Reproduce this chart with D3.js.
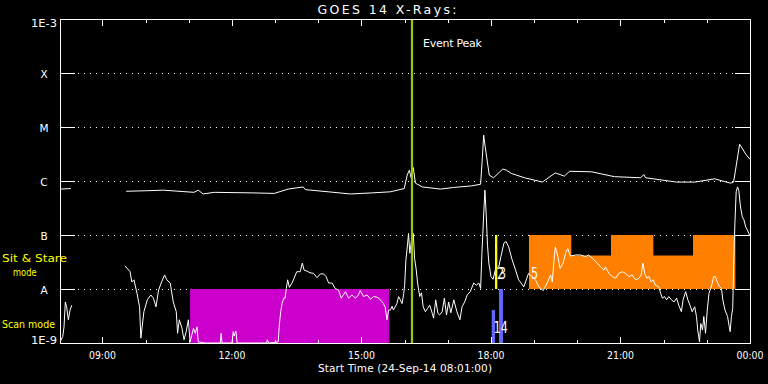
<!DOCTYPE html>
<html>
<head>
<meta charset="utf-8">
<script src="https://cdn.jsdelivr.net/npm/d3@7"></script>
<style>
	html, body { margin: 0; padding: 0; background: #000; }
	svg { display: block; }
	text { font-family: 'DejaVu Sans', sans-serif; fill: #fff; }
</style>
</head>
<body>
<svg width="768" height="384"></svg>
<script>

// times are hours (UT) on 24-Sep-14, values are log10 of flux in W/m^2
const longHours = [ 8.02, 8.27, 8.9, 9.55, 10.03, 10.41, 11.12, 11.22, 11.33, 11.59, 12.47, 12.98, 13.30, 13.65, 13.70, 14.23, 14.74, 15.25, 15.67, 15.99,
	16.06, 16.11, 16.15, 16.20, 16.25, 16.41, 16.83, 17.13, 17.55, 17.76, 17.80, 17.83, 17.87, 17.96, 18.06, 18.27, 18.36, 18.47, 18.78, 19.19,
	19.49, 19.70, 19.82, 20.33, 20.86, 21.47, 21.54, 21.58, 22.30, 22.72, 23.18, 23.55, 23.62, 23.76, 23.90, 24.0 ]
const longExp = [ -6.15, -6.14, null, -6.19, -6.18, -6.17, -6.21, -6.17, -6.24, -6.21, -6.22, -6.23, -6.15, -6.11, -6.16, -6.20, -6.24, -6.22, -6.20, -6.14,
	-5.89, -5.80, -5.94, -5.75, -6.04, -6.11, -6.15, -6.12, -6.09, -6.06, -5.57, -5.15, -5.39, -5.89, -5.94, -5.78, -5.80, -5.86, -5.94, -6.02,
	-5.85, -5.91, -5.82, -5.83, -5.92, -5.94, -5.88, -5.94, -6.02, -6.02, -5.96, -6.04, -6.02, -5.32, -5.50, -5.60 ]

const shortHours = [ 8.02, 8.08, 8.11, 8.14, 8.17, 8.21, 8.25, 8.29, 8.9,
	9.52, 9.64, 9.68, 9.73, 9.80, 9.86, 9.89, 9.92, 9.96, 10.04, 10.12, 10.18, 10.24, 10.30, 10.37, 10.44, 10.49, 10.57, 10.64, 10.71, 10.74,
	10.78, 10.84, 10.89, 10.94, 10.99, 11.03, 11.07, 11.11, 11.15, 11.19, 11.22, 11.38, 11.73, 11.75, 11.77, 12.00, 12.03, 12.05, 12.09, 12.12,
	12.80, 12.82, 12.85, 13.07, 13.10, 13.13, 13.16, 13.20, 13.23, 13.26, 13.29, 13.33, 13.39, 13.44, 13.50, 13.58, 13.63, 13.67, 13.74, 13.81,
	13.89, 13.97, 14.05, 14.12, 14.18, 14.24, 14.32, 14.39, 14.47, 14.53, 14.63, 14.70, 14.78, 14.86, 14.93, 14.97, 15.05, 15.13, 15.21, 15.28,
	15.36, 15.44, 15.51, 15.55, 15.59, 15.63, 15.67, 15.71, 15.74, 15.82, 15.86, 15.90, 15.94, 15.98, 16.00, 16.03, 16.07, 16.09, 16.12, 16.16,
	16.20, 16.23, 16.27, 16.30, 16.35, 16.39, 16.43, 16.48, 16.53, 16.58, 16.64, 16.67, 16.72, 16.77, 16.81, 16.87, 16.92, 16.97, 17.02, 17.07,
	17.14, 17.21, 17.28, 17.33, 17.39, 17.45, 17.52, 17.60, 17.66, 17.72, 17.76, 17.79, 17.83, 17.86, 17.89, 17.92, 17.95, 18.00, 18.05, 18.10,
	18.18, 18.23, 18.30, 18.35, 18.41, 18.49, 18.57, 18.64, 18.68, 18.76, 18.87, 18.95, 19.03, 19.11, 19.21, 19.30, 19.38, 19.42, 19.46, 19.49,
	19.55, 19.60, 19.67, 19.74, 19.78, 19.84, 19.96, 20.07, 20.19, 20.26, 20.35, 20.46, 20.54, 20.62, 20.65, 20.73, 20.81, 20.89, 20.96, 21.04,
	21.12, 21.19, 21.27, 21.35, 21.43, 21.48, 21.52, 21.56, 21.61, 21.66, 21.71, 21.76, 21.81, 21.89, 21.93, 21.97, 22.02, 22.07, 22.12, 22.18,
	22.24, 22.30, 22.35, 22.41, 22.45, 22.51, 22.56, 22.61, 22.66, 22.72, 22.76, 22.79, 22.83, 22.86, 22.90, 22.93, 22.97, 23.01, 23.05, 23.09,
	23.13, 23.16, 23.20, 23.24, 23.30, 23.34, 23.37, 23.42, 23.48, 23.52, 23.54, 23.57, 23.60, 23.62, 23.65, 23.68, 23.71, 23.74, 23.78, 23.82,
	23.86, 23.90, 23.94, 24.00 ]
const shortExp = [ -8.98, -8.88, -8.70, -8.24, -8.33, -8.57, -8.39, -8.30, null,
	-7.57, -7.68, -7.87, -7.83, -8.08, -8.33, -8.91, -8.70, -8.42, -8.20, -8.11, -8.17, -8.33, -8.02, -7.87, -7.74, -7.83, -7.89, -8.24, -8.42, -8.82,
	-8.57, -8.72, -8.94, -8.79, -8.57, -8.98, -8.85, -8.73, -8.82, -8.70, -8.98, -9.0, -9.0, -8.82, -9.0, -9.0, -8.79, -8.87, -8.78, -9.0,
	-9.0, -8.94, -9.0, -8.98, -8.64, -8.42, -8.27, -8.17, -8.17, -7.99, -7.83, -7.97, -7.89, -7.80, -7.68, -7.68, -7.52, -7.65, -7.67, -7.70,
	-7.71, -7.79, -7.72, -7.72, -7.77, -7.89, -7.89, -7.99, -8.02, -8.17, -8.05, -8.17, -8.11, -8.17, -8.11, -8.03, -8.14, -8.11, -8.19, -8.14,
	-8.15, -8.20, -8.27, -8.34, -8.57, -8.39, -8.39, -8.32, -8.39, -8.27, -8.14, -8.20, -8.27, -8.08, -7.93, -7.46, -7.15, -6.97, -7.34, -7.09,
	-6.97, -7.43, -7.65, -7.89, -8.14, -8.07, -8.33, -8.42, -8.36, -8.30, -8.45, -8.54, -8.20, -8.45, -8.48, -8.42, -8.17, -8.48, -8.24, -8.44,
	-8.20, -8.42, -8.57, -8.33, -8.24, -8.11, -8.05, -7.89, -7.93, -7.89, -7.99, -7.34, -6.63, -6.17, -6.63, -7.19, -7.52, -7.77, -7.82, -7.65,
	-7.59, -7.40, -7.15, -7.12, -7.22, -7.46, -7.65, -7.83, -7.87, -7.96, -7.71, -7.77, -7.83, -7.96, -8.03, -7.89, -7.74, -7.87, -7.46, -7.22,
	-7.40, -7.62, -7.52, -7.31, -7.25, -7.39, -7.37, -7.37, -7.40, -7.37, -7.43, -7.52, -7.59, -7.65, -7.59, -7.71, -7.77, -7.80, -7.71, -7.68,
	-7.71, -7.77, -7.74, -7.83, -7.80, -7.74, -7.52, -7.71, -7.80, -7.77, -7.87, -7.83, -7.93, -7.96, -8.08, -8.17, -8.14, -8.20, -8.14, -8.20,
	-8.24, -8.17, -8.30, -8.42, -8.20, -8.05, -8.20, -8.30, -8.42, -8.33, -8.51, -8.76, -8.98, -8.64, -8.76, -8.51, -8.82, -8.39, -8.08, -7.99,
	-7.87, -7.77, -7.77, -7.87, -7.96, -7.99, -8.20, -8.39, -8.51, -8.70, -8.79, -8.51, -8.36, -7.59, -6.78, -6.20, -6.11, -6.17, -6.48, -6.66,
	-6.72, -6.85, -6.91, -7.02 ]

// flare classes on the left axis
const levelExp = [ -9, -8, -7, -6, -5, -4, -3 ]
const levelNames = [ '1E-9', 'A', 'B', 'C', 'M', 'X', '1E-3' ]

// scan mode blocks (magenta) and sit & stare blocks (orange), fill = part of the band
const scanStart = [ 11.03 ]
const scanEnd = [ 15.64 ]
const stareStart = [ 18.88, 19.85, 20.78, 21.75, 22.68 ]
const stareEnd = [ 19.85, 20.78, 21.75, 22.68, 23.65 ]
const stareFill = [ 1, 0.62, 1, 0.62, 1 ]

// short observation bars near 18:00
const barStart = [ 18.093, 18.017, 18.186 ]
const barEnd = [ 18.146, 18.093, 18.278 ]
const barFill = [ 1, 0.61, 1 ]
const barRow = [ 'stare', 'scan', 'scan' ]

const markText = [ '2', '3', '5', '14' ]
const markHour = [ 18.095, 18.14, 18.88, 18.017 ]
const markRow = [ 'stare', 'stare', 'stare', 'scan' ]

const eventPeak = 16.17

const svg = d3.select( 'svg' ),
	day = Date.UTC( 2014, 8, 24 ),
	toDate = h => new Date( day + h * 3600e3 ),
	fmt = d3.utcFormat( '%H:%M' ),

	x = d3.scaleTime()
		.domain( [ toDate( 8 + 1 / 60 ), toDate( 24 ) ] )
		.range( [ 60, 750 ] ),

	y = d3.scaleLog()
		.domain( [ 1e-9, 1e-3 ] )
		.range( [ 343, 19 ] )
		.clamp( true ),

	rows = {
		scan: [ 1e-9, 1e-8 ],
		stare: [ 1e-8, 1e-7 ]
	},
	rowTop = ( row, fill ) => y( rows[ row ][ 0 ] ) - fill * ( y( rows[ row ][ 0 ] ) - y( rows[ row ][ 1 ] ) )

// dotted grid at the flare classes
svg.append( 'g' )
	.selectAll( 'line' )
	.data( levelExp.slice( 1, -1 ) )
	.enter()
	.append( 'line' )
	.attr( 'x1', 78 )
	.attr( 'x2', 735 )
	.attr( 'y1', d => Math.round( y( 10 ** d ) ) + 0.5 )
	.attr( 'y2', d => Math.round( y( 10 ** d ) ) + 0.5 )
	.attr( 'stroke', '#fff' )
	.attr( 'stroke-dasharray', '1 5' )

// mode blocks
svg.append( 'g' )
	.selectAll( 'rect' )
	.data( scanStart.map( ( s, i ) => ( { s, e: scanEnd[ i ] } ) ) )
	.enter()
	.append( 'rect' )
	.attr( 'x', d => x( toDate( d.s ) ) )
	.attr( 'width', d => x( toDate( d.e ) ) - x( toDate( d.s ) ) )
	.attr( 'y', rowTop( 'scan', 1 ) )
	.attr( 'height', y( 1e-9 ) - y( 1e-8 ) )
	.attr( 'fill', '#cc00cc' )

svg.append( 'g' )
	.selectAll( 'rect' )
	.data( stareStart.map( ( s, i ) => ( { s, e: stareEnd[ i ], f: stareFill[ i ] } ) ) )
	.enter()
	.append( 'rect' )
	.attr( 'x', d => x( toDate( d.s ) ) )
	.attr( 'width', d => x( toDate( d.e ) ) - x( toDate( d.s ) ) + 0.5 )
	.attr( 'y', d => rowTop( 'stare', d.f ) )
	.attr( 'height', d => y( 1e-8 ) - rowTop( 'stare', d.f ) )
	.attr( 'fill', '#ff8000' )

// flux curves
const line = d3.line()
	.defined( d => d.v !== null )
	.x( d => x( toDate( d.h ) ) )
	.y( d => y( 10 ** d.v ) )

const series = [
	longHours.map( ( h, i ) => ( { h, v: longExp[ i ] } ) ),
	shortHours.map( ( h, i ) => ( { h, v: shortExp[ i ] } ) )
]

svg.append( 'g' )
	.selectAll( 'path' )
	.data( series )
	.enter()
	.append( 'path' )
	.attr( 'd', line )
	.attr( 'fill', 'none' )
	.attr( 'stroke', '#fff' )
	.attr( 'stroke-width', 1 )

// observation bars
svg.append( 'g' )
	.selectAll( 'rect' )
	.data( barStart.map( ( s, i ) => ( { s, e: barEnd[ i ], f: barFill[ i ], r: barRow[ i ] } ) ) )
	.enter()
	.append( 'rect' )
	.attr( 'x', d => x( toDate( d.s ) ) )
	.attr( 'width', d => x( toDate( d.e ) ) - x( toDate( d.s ) ) )
	.attr( 'y', d => rowTop( d.r, d.f ) )
	.attr( 'height', d => y( rows[ d.r ][ 0 ] ) - rowTop( d.r, d.f ) )
	.attr( 'fill', d => d.r === 'stare' ? '#ffff00' : '#6464ff' )

svg.append( 'g' )
	.selectAll( 'text' )
	.data( markText.map( ( t, i ) => ( { t, h: markHour[ i ], r: markRow[ i ] } ) ) )
	.enter()
	.append( 'text' )
	.attr( 'x', d => x( toDate( d.h ) ) + 2 )
	.attr( 'y', d => y( rows[ d.r ][ 0 ] ) - 10 )
	.attr( 'font-size', 15 )
	.attr( 'textLength', d => 7 * d.t.length )
	.attr( 'lengthAdjust', 'spacingAndGlyphs' )
	.text( d => d.t )

// event peak
svg.append( 'line' )
	.attr( 'x1', x( toDate( eventPeak ) ) )
	.attr( 'x2', x( toDate( eventPeak ) ) )
	.attr( 'y1', 19 )
	.attr( 'y2', 343 )
	.attr( 'stroke', '#99cc00' )
	.attr( 'stroke-width', 2.2 )

svg.append( 'text' )
	.attr( 'x', x( toDate( eventPeak ) ) + 11 )
	.attr( 'y', 47 )
	.attr( 'font-size', 11 )
	.attr( 'textLength', 59 )
	.text( 'Event Peak' )

// frame and ticks
svg.append( 'rect' )
	.attr( 'x', 60.5 )
	.attr( 'y', 19.5 )
	.attr( 'width', 690 )
	.attr( 'height', 324 )
	.attr( 'fill', 'none' )
	.attr( 'stroke', '#fff' )

const yTicks = svg.append( 'g' )
	.attr( 'stroke', '#fff' )
	.selectAll( 'g' )
	.data( levelExp )
	.enter()
	.append( 'g' )
	.attr( 'transform', d => `translate(0,${ Math.round( y( 10 ** d ) ) + 0.5 })` )

yTicks.append( 'line' ).attr( 'x1', 60 ).attr( 'x2', 75 )
yTicks.append( 'line' ).attr( 'x1', 735 ).attr( 'x2', 750 )

const hours = x.ticks( d3.utcHour.every( 1 ) ),
	isMajor = d => d.getUTCHours() % 3 === 0

svg.append( 'g' )
	.attr( 'stroke', '#fff' )
	.selectAll( 'path' )
	.data( hours )
	.enter()
	.append( 'path' )
	.attr( 'd', d => {
		const px = Math.round( x( d ) ) + 0.5,
			len = isMajor( d ) ? 6 : 3
		return `M${ px },343V${ 343 - len }M${ px },20V${ 20 + len }`
	} )

svg.append( 'g' )
	.selectAll( 'text' )
	.data( hours.filter( isMajor ) )
	.enter()
	.append( 'text' )
	.attr( 'x', d => x( d ) )
	.attr( 'y', 359 )
	.attr( 'text-anchor', 'middle' )
	.attr( 'font-size', 10.5 )
	.attr( 'textLength', 27 )
	.attr( 'lengthAdjust', 'spacingAndGlyphs' )
	.text( fmt )

svg.append( 'text' )
	.attr( 'x', 405 )
	.attr( 'y', 372 )
	.attr( 'text-anchor', 'middle' )
	.attr( 'font-size', 10.5 )
	.attr( 'textLength', 174 )
	.text( 'Start Time (24-Sep-14 08:01:00)' )

svg.append( 'g' )
	.selectAll( 'text' )
	.data( levelExp )
	.enter()
	.append( 'text' )
	.attr( 'x', 44 )
	.attr( 'y', ( d, i ) => i === 0 ? 343.5 : i === levelExp.length - 1 ? 27 : Math.round( y( 10 ** d ) ) + 4.5 )
	.attr( 'text-anchor', 'middle' )
	.attr( 'font-size', 10.5 )
	.text( ( d, i ) => levelNames[ i ] )
	.filter( ( d, i ) => levelNames[ i ].length > 1 )
	.attr( 'textLength', 26 )
	.attr( 'lengthAdjust', 'spacingAndGlyphs' )

svg.append( 'text' )
	.attr( 'x', 387 )
	.attr( 'y', 14 )
	.attr( 'text-anchor', 'middle' )
	.attr( 'font-size', 12.5 )
	.attr( 'textLength', 139 )
	.text( 'GOES 14 X-Rays:' )

// mode names
const modes = svg.append( 'g' )

modes.selectAll( 'text' )
	.data( [ [ 'Sit & Stare', 2, 262, 65 ], [ 'mode', 13, 276, 23.5 ], [ 'Scan mode', 2, 328, 53 ] ] )
	.enter()
	.append( 'text' )
	.attr( 'x', d => d[ 1 ] )
	.attr( 'y', d => d[ 2 ] )
	.attr( 'font-size', 11 )
	.attr( 'textLength', d => d[ 3 ] )
	.attr( 'lengthAdjust', 'spacingAndGlyphs' )
	.style( 'fill', '#ffff00' )
	.text( d => d[ 0 ] )

</script>
</body>
</html>
